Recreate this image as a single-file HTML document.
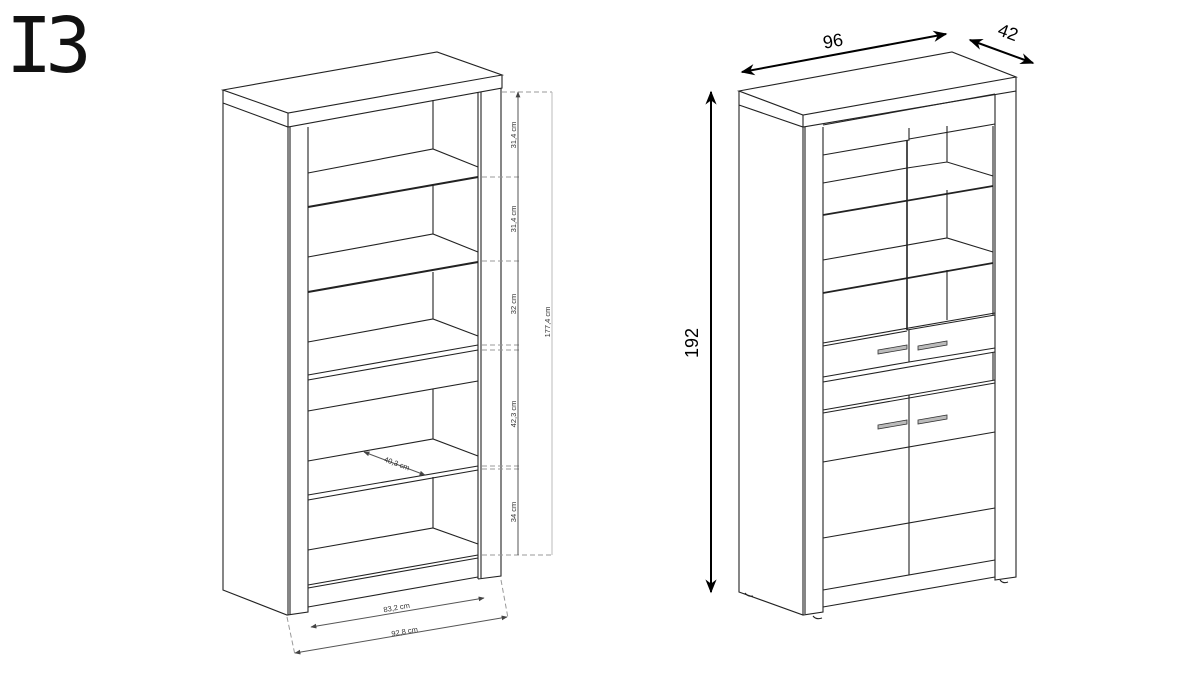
<!DOCTYPE html>
<html><head><meta charset="utf-8"><style>
html,body{margin:0;padding:0;background:#fff;width:1200px;height:675px;overflow:hidden}
svg{display:block}
text{font-family:"Liberation Sans",sans-serif}
</style></head><body>
<svg width="1200" height="675" viewBox="0 0 1200 675" xmlns="http://www.w3.org/2000/svg">
<defs>
<marker id="a" viewBox="0 0 10 10" refX="9" refY="5" markerWidth="14" markerHeight="14" markerUnits="userSpaceOnUse" orient="auto-start-reverse"><path d="M0,1 L10,5 L0,9 L3,5z" fill="#000"/></marker>
<marker id="s" viewBox="0 0 10 10" refX="9" refY="5" markerWidth="6" markerHeight="6" markerUnits="userSpaceOnUse" orient="auto-start-reverse"><path d="M0,1 L10,5 L0,9z" fill="#444"/></marker>
</defs>
<text x="6" y="72" font-size="77" fill="#111" letter-spacing="-7" style="font-family:'DejaVu Sans Mono','Liberation Mono',monospace">I3</text>

<!-- LEFT CABINET -->
<g fill="none" stroke="#222" stroke-width="1.1">
<path d="M223,90 L437,52 L502,75 L288,113 Z"/>
<path d="M223,90 V590 L287,615 L308,612 V127 M288,113 V615 M223,103 L288,127 L502,88 V75"/>
<path d="M478,92 V579 M501,88 V576 L478,579 M481,92 V578"/>
<path d="M290,127 V614"/>
<path d="M433,100 V149 M308,173 L433,149 L478,167"/>
<path d="M308,207 L478,177" stroke-width="2"/>
<path d="M433,185 V234 M308,257 L433,234 L478,252"/>
<path d="M308,292 L478,262" stroke-width="2"/>
<path d="M433,272 V319 M308,342 L433,319 L478,336"/>
<path d="M308,375 L478,345 M308,380 L478,350"/>
<path d="M308,411 L478,381 M433,389 V439 M308,461 L433,439 L478,456"/>
<path d="M308,495 L478,466 M308,500 L478,470"/>
<path d="M433,477 V528 M308,550 L433,528 L478,544"/>
<path d="M308,585 L478,555 M308,588 L478,558 M308,607 L478,577"/>
</g>
<g fill="none" stroke="#999" stroke-width="1" stroke-dasharray="5,3">
<path d="M502,92 H552 M482,177 H520 M482,261 H520 M482,345 H520 M482,350 H520 M482,466 H520 M482,469 H520 M482,555 H552"/>
<path d="M287,617 L295,655 M501,580 L508,618"/>
</g>
<g fill="none" stroke="#555" stroke-width="1">
<path d="M518,92 V555" marker-start="url(#s)"/>
<path d="M518,177 V555"/>
<path d="M552,92 V555" stroke="#bbb"/>
<path d="M311,627 L484,598" marker-start="url(#s)" marker-end="url(#s)"/>
<path d="M295,653 L507,617" marker-start="url(#s)" marker-end="url(#s)"/>
<path d="M364,452 L425,475" marker-start="url(#s)" marker-end="url(#s)"/>
</g>
<g font-size="7.5" fill="#333" text-anchor="middle">
<text transform="translate(516,135) rotate(-90)">31,4 cm</text>
<text transform="translate(516,219) rotate(-90)">31,4 cm</text>
<text transform="translate(516,304) rotate(-90)">32 cm</text>
<text transform="translate(516,414) rotate(-90)">42,3 cm</text>
<text transform="translate(516,512) rotate(-90)">34 cm</text>
<text transform="translate(550,322) rotate(-90)">177,4 cm</text>
<text transform="translate(397,610) rotate(-10)">83,2 cm</text>
<text transform="translate(405,634) rotate(-10)">92,8 cm</text>
<text transform="translate(396,466) rotate(20)">40,3 cm</text>
</g>

<!-- RIGHT CABINET -->
<g fill="none" stroke="#222" stroke-width="1.1">
<path d="M739,91 L952,52 L1016,77 L803,115 Z"/>
<path d="M739,91 V592 L803,615 L823,612 V127 M803,115 V615 M739,105 L803,127 L1016,91 V77"/>
<path d="M995,94 V580 L1016,577 V91 M805,127 V614"/>
<path d="M823,125 L995,94"/>
<path d="M823,155 L909,140 V128 M909,139 L995,124"/>
<path d="M907,140 V330" stroke-width="1.6"/>
<path d="M993,126 V315"/>
<path d="M947,126 V162 M823,183 L907,168 L947,162 L993,176"/>
<path d="M823,215 L993,186" stroke-width="1.8"/>
<path d="M947,190 V238 M823,260 L947,238 L993,252"/>
<path d="M823,293 L993,263" stroke-width="1.8"/>
<path d="M947,270 V320 M907,330 L995,315"/>
<path d="M823,343 L995,313 M823,346 L907,331 M823,377 L909,362 L995,348 M909,330 V362"/>
<path d="M823,382 L995,352 M993,352 V380"/>
<path d="M823,410 L995,380 M823,413 L995,383" stroke-width="1"/>
<path d="M909,395 V575"/>
<path d="M823,462 L995,432 M823,538 L995,508 M823,590 L995,560 M823,607 L995,577"/>
<path d="M745,593 q3,4 8,3 M813,616 q3,4 9,2 M1000,580 q3,4 8,2"/>
</g>
<g fill="#bbb" stroke="#333" stroke-width="0.8">
<path d="M878,350 L907,345 L907,349 L878,354 Z"/>
<path d="M918,346 L947,341 L947,345 L918,350 Z"/>
<path d="M878,425 L907,420 L907,424 L878,429 Z"/>
<path d="M918,420 L947,415 L947,419 L918,424 Z"/>
</g>
<g fill="none" stroke="#000" stroke-width="2">
<path d="M742,72 L946,34" marker-start="url(#a)" marker-end="url(#a)"/>
<path d="M970,40 L1033,63" marker-start="url(#a)" marker-end="url(#a)"/>
<path d="M711,92 V592" marker-start="url(#a)" marker-end="url(#a)"/>
</g>
<g font-size="18" fill="#000" text-anchor="middle">
<text transform="translate(834,47) rotate(-10)">96</text>
<text transform="translate(1006,38) rotate(20)">42</text>
<text transform="translate(698,343) rotate(-90)">192</text>
</g>
</svg>
</body></html>
